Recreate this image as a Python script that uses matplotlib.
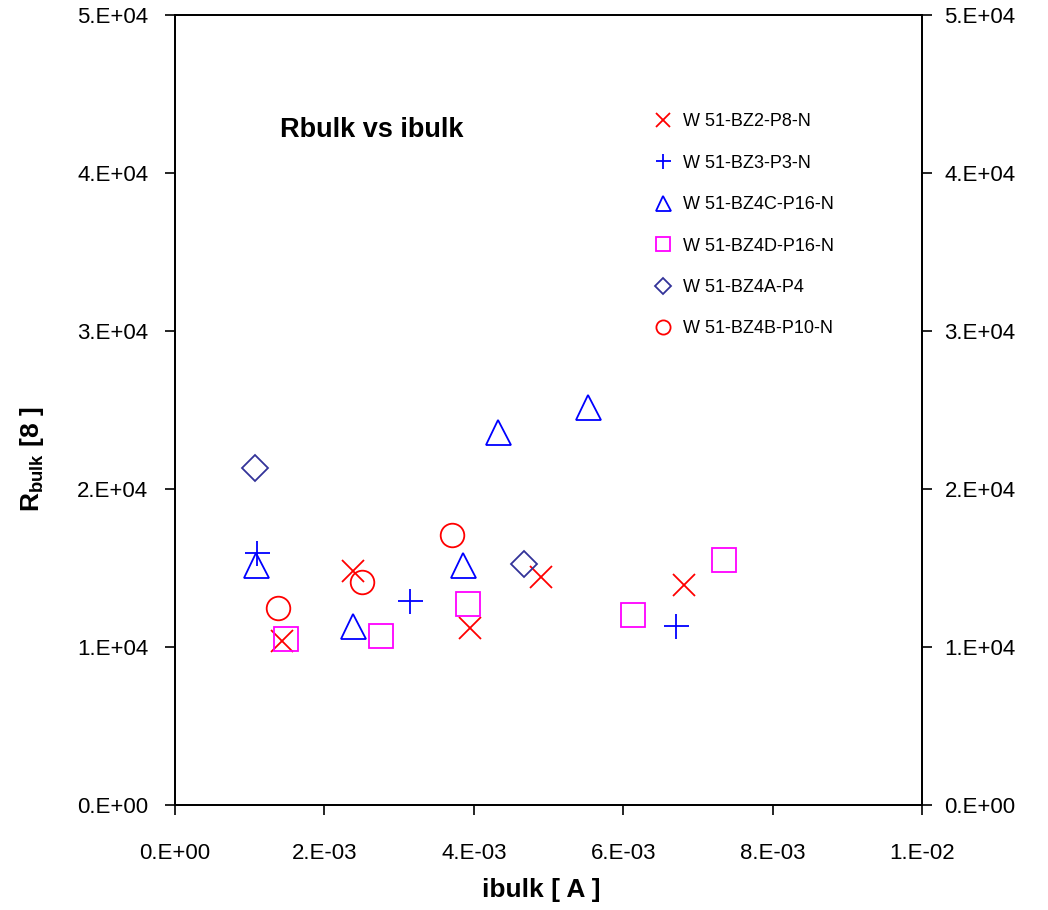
import matplotlib
matplotlib.use("Agg")
from matplotlib import pyplot as plt

plt.rcParams['font.family'] = ['Liberation Sans', 'DejaVu Sans']
plt.rcParams['mathtext.fontset'] = 'custom'
plt.rcParams['mathtext.rm'] = 'Liberation Sans:bold'
plt.rcParams['mathtext.bf'] = 'Liberation Sans:bold'

# data (ibulk [A], Rbulk)
bz2_x = [1.43e-3, 2.38e-3, 3.95e-3, 4.90e-3, 6.81e-3]
bz2_y = [1.04e4, 1.48e4, 1.12e4, 1.44e4, 1.39e4]
bz3_x = [1.10e-3, 3.15e-3, 6.71e-3]
bz3_y = [1.595e4, 1.29e4, 1.13e4]
bz4c_x = [1.08e-3, 2.38e-3, 3.85e-3, 4.32e-3, 5.53e-3]
bz4c_y = [1.52e4, 1.13e4, 1.52e4, 2.36e4, 2.52e4]
bz4d_x = [1.49e-3, 2.76e-3, 3.92e-3, 6.13e-3, 7.35e-3]
bz4d_y = [1.05e4, 1.07e4, 1.27e4, 1.20e4, 1.55e4]
bz4a_x = [1.07e-3, 4.67e-3]
bz4a_y = [2.13e4, 1.525e4]
bz4b_x = [1.38e-3, 2.50e-3, 3.71e-3]
bz4b_y = [1.25e4, 1.41e4, 1.71e4]

labels = ["W 51-BZ2-P8-N", "W 51-BZ3-P3-N", "W 51-BZ4C-P16-N",
          "W 51-BZ4D-P16-N", "W 51-BZ4A-P4", "W 51-BZ4B-P10-N"]
xticks = [0, 2e-3, 4e-3, 6e-3, 8e-3, 1e-2]
xticklabels = ["0.E+00", "2.E-03", "4.E-03", "6.E-03", "8.E-03", "1.E-02"]
yticks = [0, 1e4, 2e4, 3e4, 4e4, 5e4]
yticklabels = ["0.E+00", "1.E+04", "2.E+04", "3.E+04", "4.E+04", "5.E+04"]

fig = plt.figure(figsize=(10.48, 9.10), dpi=100)
ax = fig.add_axes([175/1048, 1-805/910, (922-175)/1048, (805-15)/910])

ms = 16
ax.plot(bz2_x, bz2_y, linestyle='none', marker='x', color='#ff0000', ms=ms, mew=1.3, label=labels[0])
ax.plot(bz3_x, bz3_y, linestyle='none', marker='+', color='#0000ff', ms=ms+2, mew=1.3, label=labels[1])
ax.plot(bz4c_x, bz4c_y, linestyle='none', marker='^', color='#0000ff', mfc='none', ms=ms+2, mew=1.3, label=labels[2])
ax.plot(bz4d_x, bz4d_y, linestyle='none', marker='s', color='#ff00ff', mfc='none', ms=ms+1, mew=1.3, label=labels[3])
ax.plot(bz4a_x, bz4a_y, linestyle='none', marker='D', color='#333399', mfc='none', ms=ms-3, mew=1.3, label=labels[4])
ax.plot(bz4b_x, bz4b_y, linestyle='none', marker='o', color='#ff0000', mfc='none', ms=ms+1, mew=1.3, label=labels[5])

ax.set_xlim(0, 1e-2)
ax.set_ylim(0, 5e4)
ax.set_xticks(xticks)
ax.set_xticklabels(xticklabels)
ax.set_yticks(yticks)
ax.set_yticklabels(yticklabels)
ax.tick_params(direction='out', length=7.2, width=1.2, labelsize=16)
ax.tick_params(axis='y', pad=12)
ax.tick_params(axis='x', pad=20)
for s in ax.spines.values():
    s.set_linewidth(1.3)

ax2 = ax.twinx()
ax2.set_ylim(0, 5e4)
ax2.set_yticks(yticks)
ax2.set_yticklabels(yticklabels)
ax2.tick_params(direction='out', length=7.2, width=1.2, labelsize=16, pad=9)
for s in ax2.spines.values():
    s.set_linewidth(1.3)

ax.set_xlabel('ibulk [ A ]', fontsize=19, fontweight='bold')
ax.xaxis.set_label_coords(0.49, -0.093)
ax.set_ylabel('R$_{\\rm bulk}$ [8 ]', fontsize=19, fontweight='bold')
ax.yaxis.set_label_coords(-0.173, 0.437)
ax.text(0.141, 0.8456, 'Rbulk vs ibulk', transform=ax.transAxes, fontsize=19.5,
        fontweight='bold', va='baseline')

ax.legend(loc='upper left', bbox_to_anchor=(0.621, 0.896), frameon=False, fontsize=13,
          labelspacing=1.35, handlelength=0.9, handletextpad=0.65, markerscale=0.6)

plt.savefig('out.png', dpi=100)
